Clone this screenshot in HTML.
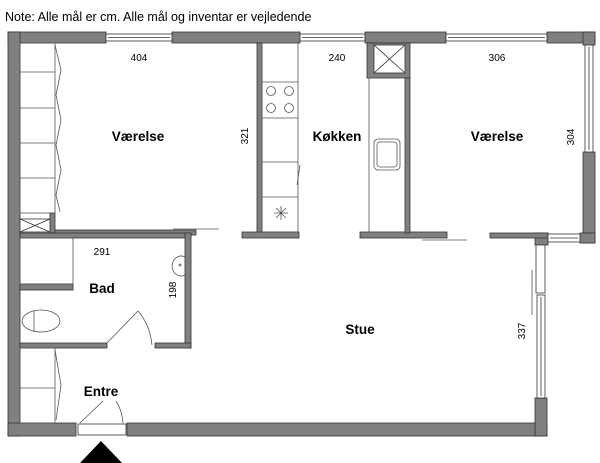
<!DOCTYPE html>
<html><head><meta charset="utf-8"><style>
html,body{margin:0;padding:0;background:#fff;width:600px;height:463px;overflow:hidden}
svg{display:block}
text{font-family:"Liberation Sans",sans-serif;fill:#000}
</style></head><body>
<svg width="600" height="463" viewBox="0 0 600 463" xmlns="http://www.w3.org/2000/svg">
<text x="5" y="21" font-size="12.5">Note: Alle mål er cm. Alle mål og inventar er vejledende</text>
<g fill="#808080" stroke="#333" stroke-width="0.8">
<!-- outer walls -->
<rect x="8" y="32" width="98" height="11"/>
<rect x="172" y="32" width="128" height="11"/>
<rect x="365" y="32" width="81" height="11"/>
<rect x="547" y="32" width="48" height="11"/>
<rect x="8" y="32" width="12" height="404"/>
<rect x="583" y="152" width="12" height="91"/>
<rect x="583" y="32" width="12" height="13"/>
<rect x="8" y="423" width="68" height="13"/>
<rect x="127" y="423" width="420" height="13"/>
<rect x="535" y="398" width="12" height="38"/>
<rect x="535" y="233" width="13" height="12"/>
<rect x="580" y="233" width="15" height="10"/>
<!-- interior -->
<rect x="257" y="43" width="5" height="190"/>
<rect x="242" y="232" width="57" height="6"/>
<rect x="360" y="232" width="87" height="6"/>
<rect x="490" y="233" width="58" height="5"/>
<rect x="367" y="43" width="43" height="35"/>
<rect x="405" y="78" width="5" height="155"/>
<rect x="55" y="230" width="141" height="5"/>
<rect x="50" y="213" width="5" height="20"/>
<rect x="20" y="233" width="171" height="5"/>
<rect x="185" y="233" width="6" height="115"/>
<rect x="20" y="343" width="87" height="5"/>
<rect x="155" y="343" width="36" height="5"/>
<rect x="20" y="284" width="53" height="6"/>
</g>
<g fill="#fff" stroke="#333" stroke-width="0.8">
<!-- windows -->
<rect x="106" y="34" width="66" height="7"/><line x1="108" y1="37.5" x2="170" y2="37.5"/>
<rect x="300" y="34" width="65" height="7"/><line x1="302" y1="37.5" x2="363" y2="37.5"/>
<rect x="446" y="34" width="101" height="7"/><line x1="448" y1="37.5" x2="545" y2="37.5"/>
<rect x="585" y="45" width="8" height="107"/><line x1="589" y1="47" x2="589" y2="150"/>
<rect x="548" y="234" width="32" height="8"/><line x1="550" y1="238" x2="578" y2="238"/>
<rect x="536" y="245" width="9" height="48"/>
<rect x="537" y="295" width="8" height="103"/><line x1="541" y1="297" x2="541" y2="396"/>
<rect x="78" y="424" width="48" height="11"/>
<!-- shaft box -->
<rect x="374" y="45" width="31" height="28"/>
<line x1="374" y1="45" x2="405" y2="73"/><line x1="405" y1="45" x2="374" y2="73"/>
<rect x="20" y="219" width="30" height="13"/>
<line x1="20" y1="219" x2="50" y2="232"/><line x1="50" y1="219" x2="20" y2="232"/>
</g>
<g fill="none" stroke="#555" stroke-width="0.8">
<!-- wardrobes -->
<rect x="20" y="43" width="35" height="170"/>
<line x1="20" y1="72" x2="55" y2="72"/><line x1="20" y1="108" x2="55" y2="108"/>
<line x1="20" y1="143" x2="55" y2="143"/><line x1="20" y1="178" x2="55" y2="178"/>
<polyline points="55,45 61,70 56,95 61,120 56,145 61,170 56,195 60,212"/>
<rect x="20" y="348" width="35" height="75"/><line x1="20" y1="388" x2="55" y2="388"/>
<polyline points="55,350 61,385 56,420"/>
<!-- kitchen counters -->
<rect x="262" y="43" width="36" height="189"/>
<line x1="262" y1="82" x2="298" y2="82"/><line x1="262" y1="118" x2="298" y2="118"/>
<line x1="262" y1="162" x2="298" y2="162"/><line x1="262" y1="197" x2="298" y2="197"/>
<circle cx="271" cy="91" r="4.5"/><circle cx="289" cy="91" r="4.5"/>
<circle cx="271" cy="108" r="4.5"/><circle cx="289" cy="108" r="4.5"/>
<path d="M274 213h14M281 206v14M276 208l10 10M286 208l-10 10"/>
<line x1="300" y1="165" x2="297" y2="185"/>
<rect x="369" y="78" width="36" height="154"/>
<rect x="374" y="139" width="26" height="31" rx="4"/>
<rect x="377" y="142" width="20" height="25" rx="3"/>
<!-- sliding lines -->
<line x1="173" y1="229" x2="219" y2="229"/>
<line x1="422" y1="240" x2="467" y2="240"/>
<line x1="532" y1="270" x2="532" y2="315"/>
<!-- bath -->
<rect x="20" y="238" width="53" height="46"/>
<ellipse cx="41" cy="321" rx="19" ry="11"/><line x1="34" y1="310" x2="34" y2="332"/>
<path d="M185 257 a9 10 0 1 0 0 18 z"/><circle cx="180" cy="265" r="1"/>
<line x1="107" y1="343" x2="138" y2="311"/>
<path d="M138 311 Q150 325 152 345"/>
<line x1="80" y1="423" x2="103" y2="401"/>
<path d="M116 401 Q122 410 123 423"/>
</g>
<polygon points="80,463 101,441 122,463" fill="#000"/>
<g font-size="10" text-anchor="middle">
<text x="139" y="61">404</text>
<text x="337" y="61">240</text>
<text x="497" y="61">306</text>
<text x="102" y="255">291</text>
<text transform="translate(248,136) rotate(-90)">321</text>
<text transform="translate(574,137) rotate(-90)">304</text>
<text transform="translate(176,290) rotate(-90)">198</text>
<text transform="translate(525,331) rotate(-90)">337</text>
</g>
<g font-size="13.5" font-weight="bold" text-anchor="middle">
<text x="138" y="141">Værelse</text>
<text x="337" y="141">Køkken</text>
<text x="497" y="141">Værelse</text>
<text x="102" y="293">Bad</text>
<text x="360" y="334">Stue</text>
<text x="101" y="396">Entre</text>
</g>
</svg>
</body></html>
